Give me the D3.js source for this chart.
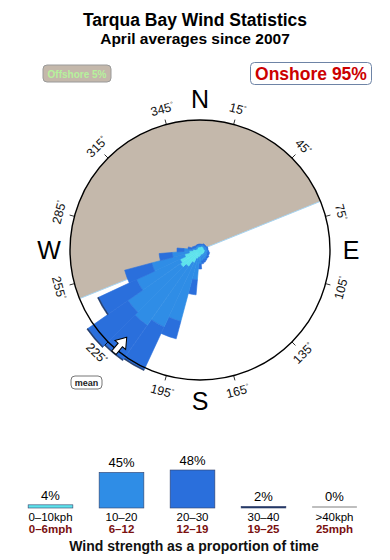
<!DOCTYPE html>
<html>
<head>
<meta charset="utf-8">
<script src="https://cdn.jsdelivr.net/npm/d3@7"></script>
<style>
  body { margin: 0; background: #fff; }
  svg { font-family: "Liberation Sans", Arial, sans-serif; display: block; }
</style>
</head>
<body>
<svg id="chart"></svg>
<script>
// chart data
const directions = d3.range(0, 360, 10);
const bandNames = ['0–10kph', '10–20', '20–30', '30–40', '>40kph'];
const mphNames = ['0–6mph', '6–12', '12–19', '19–25', '25mph'];
const bandTotals = [4, 45, 48, 2, 0];
// per direction frequency for each band (same order as directions)
const band0 = [0.3,0.3,0.3,0.4,0.4,0.4,0.4,0.4,0.4,0.4,0.5,0.5,0.5,0.5,0.5,0.5,0.5,0.5,
               0.6,0.7,0.9,1.4,2.0,2.4,2.2,1.6,1.1,0.7,0.4,0.3,0.3,0.3,0.3,0.3,0.3,0.3];
const band1 = [0.2,0.2,0.2,0.2,0.2,0.2,0.2,0.3,0.3,0.3,0.3,0.3,0.3,0.4,0.4,0.5,0.5,0.6,
               0.8,2.3,6.5,7.1,7.2,6.4,4.8,3.4,1.7,0.9,0.4,0.3,0.2,0.2,0.2,0.2,0.2,0.2];
const band2 = [0.1,0.1,0.1,0.1,0.1,0.1,0.1,0.1,0.1,0.1,0.1,0.2,0.2,0.2,0.2,0.2,0.3,0.3,
               0.5,1.5,1.8,4.7,4.2,4.9,4.2,2.8,1.3,0.7,0.4,0.2,0.2,0.1,0.1,0.1,0.1,0.1];
const band3 = [0,0,0,0,0,0,0,0,0,0,0,0,0,0,0,0,0,0,
               0,0,0,0.1,0.1,0.1,0.1,0,0,0,0,0,0,0,0,0,0,0];
const band4 = directions.map(() => 0);
const offshoreFrom = 248;
const offshoreTo = 68;
const offshorePct = 5;
const onshorePct = 95;
const meanDirection = 220;
const compassTicks = d3.range(15, 360, 30);
const compassLetters = [['N', 0], ['E', 90], ['S', 180], ['W', 270]];

let width = 390;
let height = 560;
let cx = 200;
let cy = 250;
let R = 130;
const colors = ['#5ee3ec', '#2f8de6', '#2a6fdc', '#1d3767', '#a8a8a8'];
const bands = [band0, band1, band2, band3, band4];

const svg = d3.select('#chart').attr('width', width).attr('height', height);
const rad = (d) => d * Math.PI / 180;

// titles
svg.append('text').attr('x', 195).attr('y', 26).attr('text-anchor', 'middle')
    .attr('font-size', 17.5).attr('font-weight', 'bold').text('Tarqua Bay Wind Statistics');
svg.append('text').attr('x', 195).attr('y', 44).attr('text-anchor', 'middle')
    .attr('font-size', 15.5).attr('font-weight', 'bold').text('April averages since 2007');

// offshore / onshore boxes
svg.append('rect').attr('x', 43).attr('y', 65).attr('width', 68).attr('height', 17).attr('rx', 4)
    .attr('fill', '#c4b8ab').attr('stroke', '#9a9a9a');
svg.append('text').attr('x', 77).attr('y', 77.5).attr('text-anchor', 'middle')
    .attr('font-size', 10).attr('font-weight', 'bold').attr('fill', '#b6f29c')
    .text('Offshore ' + offshorePct + '%');
svg.append('rect').attr('x', 250.5).attr('y', 62.5).attr('width', 121).attr('height', 22).attr('rx', 4)
    .attr('fill', '#fff').attr('stroke', '#6e84a6');
svg.append('text').attr('x', 311).attr('y', 80).attr('text-anchor', 'middle')
    .attr('font-size', 17.5).attr('font-weight', 'bold').attr('fill', '#cc0000')
    .text('Onshore ' + onshorePct + '%');

const g = svg.append('g').attr('transform', 'translate(' + cx + ',' + cy + ')');

// offshore sector
g.append('path')
    .attr('d', d3.arc()({innerRadius: 0, outerRadius: R, startAngle: rad(offshoreFrom), endAngle: rad(offshoreTo + 360)}))
    .attr('fill', '#c4b8ab');
[offshoreFrom, offshoreTo].forEach((a) => {
    g.append('line').attr('x1', 0).attr('y1', 0)
        .attr('x2', R * Math.sin(rad(a))).attr('y2', -R * Math.cos(rad(a)))
        .attr('stroke', '#a6d4f2').attr('stroke-width', 1);
});

// wind rose petals
const rScale = d3.scaleLinear().domain([0, 13]).range([0, R]);
const arc = d3.arc();
directions.forEach((dir, i) => {
    let r0 = 0;
    bands.forEach((b, k) => {
        const v = b[i];
        if (v <= 0) return;
        g.append('path')
            .attr('d', arc({innerRadius: rScale(r0), outerRadius: rScale(r0 + v),
                startAngle: rad(dir - 5), endAngle: rad(dir + 5)}))
            .attr('fill', colors[k]).attr('stroke', colors[k]).attr('stroke-width', 0.6);
        r0 += v;
    });
});

// compass circle
g.append('circle').attr('r', R).attr('fill', 'none').attr('stroke', '#000').attr('stroke-width', 1.4);

compassTicks.forEach((a) => {
    const s = Math.sin(rad(a)), c = Math.cos(rad(a));
    g.append('line').attr('x1', R * s).attr('y1', -R * c)
        .attr('x2', (R + 5) * s).attr('y2', -(R + 5) * c)
        .attr('stroke', '#000').attr('stroke-width', 0.8);
    let rot = a <= 90 ? a : (a < 270 ? a - 180 : a - 360);
    const lx = 146 * s, ly = -146 * c;
    const t = g.append('text').attr('transform', 'translate(' + lx + ',' + ly + ') rotate(' + rot + ')')
        .attr('text-anchor', 'middle').attr('dy', '0.35em').attr('font-size', 12.5).attr('fill', '#111');
    t.append('tspan').text(a);
    t.append('tspan').attr('font-size', 7).attr('dy', '-0.6em').text('°');
});

compassLetters.forEach(([l, a]) => {
    g.append('text').attr('x', 151 * Math.sin(rad(a))).attr('y', -151 * Math.cos(rad(a)))
        .attr('dy', '0.36em').attr('text-anchor', 'middle')
        .attr('font-size', 25).text(l);
});

// mean direction arrow
g.append('path')
    .attr('transform', 'rotate(' + meanDirection + ')')
    .attr('d', 'M0,-114 L7,-124 L2.8,-124 L2.8,-134 L-2.8,-134 L-2.8,-124 L-7,-124 Z')
    .attr('fill', '#fff').attr('stroke', '#000').attr('stroke-width', 1);

svg.append('rect').attr('x', 71).attr('y', 376).attr('width', 31).attr('height', 13).attr('rx', 4)
    .attr('fill', '#fff').attr('stroke', '#777');
svg.append('text').attr('x', 86.5).attr('y', 386).attr('text-anchor', 'middle')
    .attr('font-size', 9).attr('font-weight', 'bold').attr('fill', '#222').text('mean');

// speed legend
const xBand = d3.scaleBand().domain(bandNames).range([15, 370]).paddingInner(0.37).paddingOuter(0.185);
const hScale = d3.scaleLinear().domain([0, 48]).range([0, 38]);
const base = 508;
bandNames.forEach((n, i) => {
    const h = hScale(bandTotals[i]);
    const x = xBand(n);
    if (bandTotals[i] > 0) {
        svg.append('rect').attr('x', x).attr('y', base - h).attr('width', xBand.bandwidth()).attr('height', h)
            .attr('fill', colors[i]).attr('stroke', '#34406a').attr('stroke-width', 0.6);
    } else {
        svg.append('line').attr('x1', x).attr('x2', x + xBand.bandwidth()).attr('y1', base - 1).attr('y2', base - 1)
            .attr('stroke', colors[i]).attr('stroke-width', 1.5);
    }
    const mid = x + xBand.bandwidth() / 2;
    svg.append('text').attr('x', mid).attr('y', base - Math.max(h, 2) - 5).attr('text-anchor', 'middle')
        .attr('font-size', 13).text(bandTotals[i] + '%');
    svg.append('text').attr('x', mid).attr('y', 521).attr('text-anchor', 'middle')
        .attr('font-size', 11.5).text(n);
    svg.append('text').attr('x', mid).attr('y', 533).attr('text-anchor', 'middle')
        .attr('font-size', 11.5).attr('font-weight', 'bold').attr('fill', '#7a1010').text(mphNames[i]);
});
svg.append('text').attr('x', 194).attr('y', 551).attr('text-anchor', 'middle')
    .attr('font-size', 14).attr('font-weight', 'bold').attr('fill', '#111')
    .text('Wind strength as a proportion of time');
</script>
</body>
</html>
